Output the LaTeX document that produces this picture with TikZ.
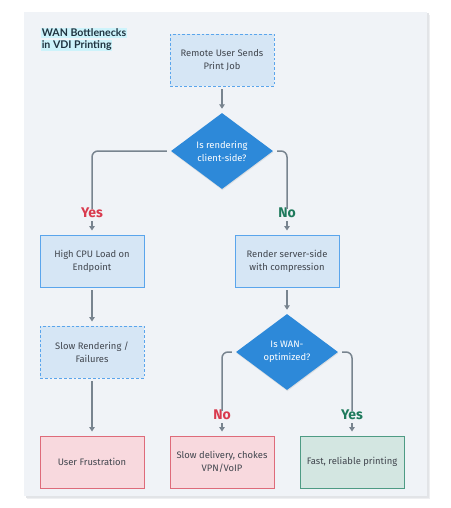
\documentclass[tikz,border=0pt]{standalone}
\usepackage{fontspec}
\setmainfont{Fira Sans}
\newfontfamily\titlefont{Lato}
\usetikzlibrary{shapes.geometric,arrows.meta,shadows}
\definecolor{panel}{HTML}{F0F3F7}
\definecolor{shadowc}{HTML}{E2E4E7}
\definecolor{titlehl}{HTML}{CDF3FB}
\definecolor{titletxt}{HTML}{1F3340}
\definecolor{txt}{HTML}{41464E}
\definecolor{boxfill}{HTML}{D6E6F5}
\definecolor{boxline}{HTML}{5AA5EC}
\definecolor{diafill}{HTML}{2D89D9}
\definecolor{badfill}{HTML}{F8D9DE}
\definecolor{badline}{HTML}{DE6B7A}
\definecolor{goodfill}{HTML}{D3E6E1}
\definecolor{goodline}{HTML}{4E9B84}
\definecolor{arrowc}{HTML}{78848F}
\definecolor{yesred}{HTML}{D93A4E}
\definecolor{nogreen}{HTML}{1E7A5C}
\begin{document}
\begin{tikzpicture}[x=1pt,y=-1pt,
  base/.style={minimum width=104pt, minimum height=52pt, align=center, text=txt,
    font=\fontsize{9.4}{13}\selectfont, line width=0.9pt, inner sep=2pt},
  proc/.style={base, draw=boxline, fill=boxfill},
  procdash/.style={base, draw=boxline, fill=boxfill, dash pattern=on 2.8pt off 2pt},
  bad/.style={base, draw=badline, fill=badfill},
  good/.style={base, draw=goodline, fill=goodfill},
  decision/.style={diamond, fill=diafill, text=white, minimum width=102pt, minimum height=76pt,
    inner sep=0pt, align=center, font=\fontsize{9.4}{13}\selectfont,
    drop shadow={opacity=0.18, shadow xshift=0.4pt, shadow yshift=-1.2pt}},
  conn/.style={draw=arrowc, line width=1.5pt},
  arr/.style={conn, -{Triangle[width=5.5pt,length=4.5pt]}},
  lab/.style={font=\bfseries\fontsize{14}{15}\selectfont, inner sep=1pt},
  ttl/.style={anchor=west, fill=titlehl, inner sep=0.6pt, text=titletxt,
    font=\titlefont\bfseries\fontsize{10.6}{12}\selectfont}
]
\useasboundingbox (0,0) rectangle (450,508);
% panel with soft shadow
\fill[shadowc!60] (27,15) rectangle (430,499);
\fill[shadowc] (25.5,13.5) rectangle (428.5,497.5);
\fill[panel] (24,12) rectangle (427,496);

% title
\node[ttl] (t1) at (41,33) {WAN Bottlenecks};
\node[ttl] (t2) at (41,45.5) {in VDI Printing};

% nodes
\node[procdash] (start) at (222,60) {Remote User Sends\\Print Job};
\node[decision] (d1) at (222,151) {Is rendering\\client-side?};
\node[lab, text=yesred] (yes1) at (92,213) {Yes};
\node[lab, text=nogreen] (no1) at (287,213) {No};
\node[proc] (cpu) at (92,261) {High CPU Load on\\Endpoint};
\node[proc] (srv) at (287,261) {Render server-side\\with compression};
\node[procdash] (slow) at (92,352) {Slow Rendering /\\Failures};
\node[decision] (d2) at (287,352) {Is WAN-\\optimized?};
\node[lab, text=yesred] (no2) at (222,415) {No};
\node[lab, text=nogreen] (yes2) at (352,415) {Yes};
\node[bad] (frus) at (92,462) {User Frustration};
\node[bad] (choke) at (222,462) {Slow delivery, chokes\\VPN/VoIP};
\node[good] (fast) at (352,462) {Fast, reliable printing};

% connectors
\draw[arr, shorten <=3pt, shorten >=4pt] (start.south) -- (d1.north);
\draw[conn, rounded corners=6pt] ([xshift=-4pt]d1.west) -| ([yshift=-2pt]yes1.north);
\draw[conn, rounded corners=6pt] ([xshift=4pt]d1.east) -| ([yshift=-2pt]no1.north);
\draw[arr, shorten <=2pt, shorten >=4pt] (yes1.south) -- (cpu.north);
\draw[arr, shorten <=2pt, shorten >=4pt] (no1.south) -- (srv.north);
\draw[arr, shorten <=3pt, shorten >=4pt] (cpu.south) -- (slow.north);
\draw[arr, shorten <=3pt, shorten >=4pt] (srv.south) -- (d2.north);
\draw[arr, shorten <=3pt, shorten >=4pt] (slow.south) -- (frus.north);
\draw[conn, rounded corners=6pt] ([xshift=-4pt]d2.west) -| ([yshift=-2pt]no2.north);
\draw[conn, rounded corners=6pt] ([xshift=4pt]d2.east) -| ([yshift=-2pt]yes2.north);
\draw[arr, shorten <=2pt, shorten >=4pt] (no2.south) -- (choke.north);
\draw[arr, shorten <=2pt, shorten >=4pt] (yes2.south) -- (fast.north);
\end{tikzpicture}
\end{document}
